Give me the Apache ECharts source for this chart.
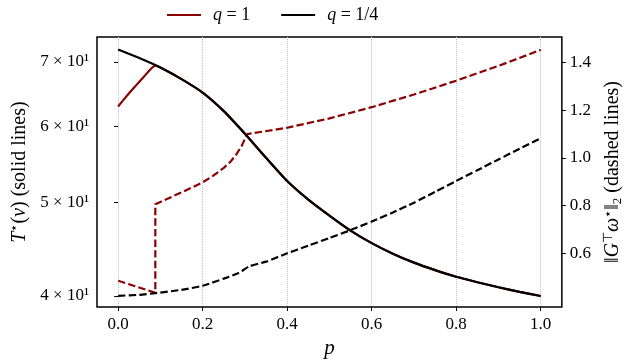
<!DOCTYPE html>
<html>
<head>
<meta charset="utf-8">
<script src="https://cdn.jsdelivr.net/npm/echarts@6/dist/echarts.min.js"></script>
<style>
  html, body { margin: 0; padding: 0; background: #fff; }
  #chart { width: 632px; height: 364px; }
</style>
</head>
<body>
<div id="chart"></div>
<script>
// p values (x axis)
var pQuarter = [0, 0.05, 0.1, 0.15, 0.2, 0.25, 0.3, 0.35, 0.4, 0.45, 0.5, 0.55, 0.6, 0.65, 0.7, 0.75, 0.8, 0.85, 0.9, 0.95, 1.0];
// T*(nu), q = 1/4 (solid black)
var tQuarter = [72.11, 70.65, 69.07, 67.18, 65.05, 62.23, 58.96, 55.66, 52.66, 50.37, 48.48, 46.77, 45.39, 44.26, 43.32, 42.55, 41.88, 41.34, 40.84, 40.40, 40.0];
// ||G^T w*||_2, q = 1/4 (dashed black)
var pNormQuarter = [0, 0.05, 0.088, 0.15, 0.2, 0.25, 0.285, 0.31, 0.35, 0.4, 0.45, 0.5, 0.55, 0.6, 0.65, 0.7, 0.75, 0.8, 0.85, 0.9, 0.95, 1.0];
var normQuarter = [0.422, 0.426, 0.433, 0.447, 0.464, 0.494, 0.517, 0.545, 0.565, 0.600, 0.632, 0.664, 0.697, 0.733, 0.771, 0.812, 0.857, 0.903, 0.948, 0.993, 1.038, 1.082];

// T*(nu), q = 1 (solid red) - follows the black curve after the kink
var pOne = [0, 0.02, 0.04, 0.06, 0.088, 0.1, 0.15, 0.2, 0.25, 0.3, 0.35, 0.4, 0.45, 0.5, 0.55, 0.6, 0.65, 0.7, 0.75, 0.8, 0.85, 0.9, 0.95, 1.0];
var tOne = [62.93, 64.5, 66.0, 67.5, 69.4, 69.07, 67.18, 65.05, 62.23, 58.96, 55.66, 52.66, 50.37, 48.48, 46.77, 45.39, 44.26, 43.32, 42.55, 41.88, 41.34, 40.84, 40.40, 40.0];
// ||G^T w*||_2, q = 1 (dashed red)
var pNormOne = [0, 0.088, 0.088, 0.1, 0.15, 0.2, 0.225, 0.25, 0.265, 0.28, 0.293, 0.305, 0.4, 0.5, 0.6, 0.7, 0.8, 0.9, 1.0];
var normOne = [0.485, 0.435, 0.805, 0.815, 0.855, 0.897, 0.925, 0.958, 0.982, 1.015, 1.052, 1.099, 1.126, 1.165, 1.212, 1.265, 1.323, 1.385, 1.452];

var xTicks = [0, 0.2, 0.4, 0.6, 0.8, 1.0];
var tTicks = [40, 50, 60, 70];
var normTicks = [0.6, 0.8, 1.0, 1.2, 1.4];

var FONT = 'Liberation Serif';
var RED = '#8b0000';
var BLACK = '#000000';

function pairs(xs, ys, fn) {
  return xs.map(function (x, i) { return [x, fn ? fn(ys[i]) : ys[i]]; });
}

var chart = echarts.init(document.getElementById('chart'));

var option = {
  animation: false,
  backgroundColor: '#fff',
  legend: {
    top: 1,
    left: 162,
    selectedMode: false,
    itemWidth: 34,
    itemHeight: 2,
    itemGap: 31,
    textStyle: {
      fontFamily: FONT, fontSize: 18, color: '#000', padding: [0, 0, 0, 7],
      rich: { i: { fontFamily: FONT, fontSize: 18, fontStyle: 'italic', color: '#000' } }
    },
    formatter: function (name) {
      return name === 'q1' ? '{i|q} = 1' : '{i|q} = 1/4';
    },
    data: [
      { name: 'q1', icon: 'rect', itemStyle: { color: RED } },
      { name: 'q4', icon: 'rect', itemStyle: { color: BLACK } }
    ]
  },
  grid: {
    left: 97, right: 67, top: 37, bottom: 57,
    show: true, borderColor: '#000', borderWidth: 1.5, backgroundColor: 'transparent'
  },
  xAxis: {
    type: 'value',
    min: -0.05,
    max: 1.05,
    name: '{i|p}',
    nameLocation: 'middle',
    nameGap: 28,
    nameTextStyle: { rich: { i: { fontFamily: FONT, fontSize: 21, fontStyle: 'italic', color: '#000' } } },
    axisLine: { show: false },
    axisTick: { show: true, length: 4, inside: false, lineStyle: { color: '#000', width: 1 }, customValues: xTicks },
    axisLabel: {
      customValues: xTicks, margin: 9, fontFamily: FONT, fontSize: 17, color: '#000',
      formatter: function (v) { return v.toFixed(1); }
    },
    splitLine: { show: true, lineStyle: { color: '#c4c4c4', type: 'dotted', width: 1 } }
  },
  yAxis: [
    {
      type: 'value',
      position: 'left',
      min: Math.log10(38.96),
      max: Math.log10(74.3),
      name: '{i|T}{s|⋆}({i|ν}) (solid lines)',
      nameLocation: 'middle',
      nameRotate: 90,
      nameGap: 63,
      nameTextStyle: {
        fontFamily: FONT, fontSize: 20, color: '#000',
        rich: {
          i: { fontFamily: FONT, fontSize: 20, fontStyle: 'italic', color: '#000' },
          s: { fontFamily: FONT, fontSize: 13, color: '#000', verticalAlign: 'top', lineHeight: 22 }
        }
      },
      axisLine: { show: false },
      axisTick: { show: true, length: 4, lineStyle: { color: '#000', width: 1 }, customValues: tTicks.map(Math.log10) },
      axisLabel: {
        customValues: tTicks.map(Math.log10), margin: 8, fontFamily: FONT, fontSize: 17, color: '#000',
        formatter: function (v) { return Math.round(Math.pow(10, v) / 10) + ' × 10¹'; }
      },
      splitLine: { show: false }
    },
    {
      type: 'value',
      position: 'right',
      min: 0.375,
      max: 1.506,
      name: '‖{i|G}{s|⊤}{i|ω}{s|⋆}‖{b|2} (dashed lines)',
      nameLocation: 'middle',
      nameRotate: 90,
      nameGap: 36,
      nameTextStyle: {
        fontFamily: FONT, fontSize: 20, color: '#000',
        rich: {
          i: { fontFamily: FONT, fontSize: 20, fontStyle: 'italic', color: '#000' },
          s: { fontFamily: FONT, fontSize: 13, color: '#000', verticalAlign: 'top', lineHeight: 22 },
          b: { fontFamily: FONT, fontSize: 13, color: '#000', verticalAlign: 'bottom', lineHeight: 22 }
        }
      },
      axisLine: { show: false },
      axisTick: { show: true, length: 4, lineStyle: { color: '#000', width: 1 }, customValues: normTicks },
      axisLabel: {
        customValues: normTicks, margin: 8, fontFamily: FONT, fontSize: 17, color: '#000',
        formatter: function (v) { return v.toFixed(1); }
      },
      splitLine: { show: false }
    }
  ],
  series: [
    {
      name: 'q1', type: 'line', yAxisIndex: 0, showSymbol: false, z: 2,
      smooth: 0.2,
      data: pairs(pOne, tOne, Math.log10),
      lineStyle: { color: RED, width: 2.2 }, itemStyle: { color: RED }
    },
    {
      name: 'q1', type: 'line', yAxisIndex: 1, showSymbol: false, z: 3,
      data: pairs(pNormOne, normOne),
      lineStyle: { color: RED, width: 2.2, type: [7.4, 3.2] }, itemStyle: { color: RED }
    },
    {
      name: 'q4', type: 'line', yAxisIndex: 0, showSymbol: false, z: 4,
      smooth: 0.2,
      data: pairs(pQuarter, tQuarter, Math.log10),
      lineStyle: { color: BLACK, width: 2.2 }, itemStyle: { color: BLACK }
    },
    {
      name: 'q4', type: 'line', yAxisIndex: 1, showSymbol: false, z: 4,
      smooth: 0.2,
      data: pairs(pNormQuarter, normQuarter),
      lineStyle: { color: BLACK, width: 2.2, type: [7.4, 3.2] }, itemStyle: { color: BLACK }
    }
  ]
};

chart.setOption(option);
window.addEventListener('resize', function () { chart.resize(); });
</script>
</body>
</html>
